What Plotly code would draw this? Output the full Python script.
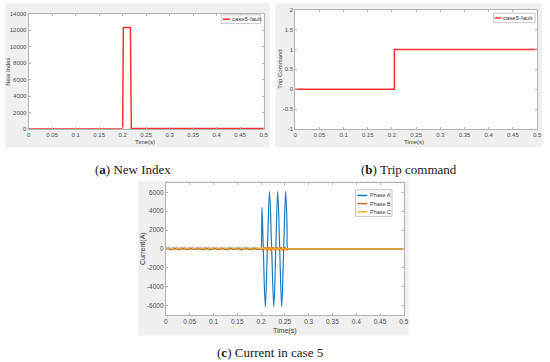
import plotly.graph_objects as go

W, H = 550, 362

# ---------------- data ----------------
# (a) New Index
t_index = [0, 0.2, 0.2015, 0.2165, 0.2185, 0.5]
new_index = [0, 0, 12350, 12350, 50, 50]

# (b) Trip command
t_trip = [0, 0.205, 0.205, 0.5]
trip_cmd = [0, 0, 1, 1]

# (c) Current in case 5
t_pre = [0, 0.0056, 0.0111, 0.0167, 0.0222, 0.0278, 0.0333, 0.0389, 0.0444, 0.05,
         0.0556, 0.0611, 0.0667, 0.0722, 0.0778, 0.0833, 0.0889, 0.0944, 0.1, 0.1056,
         0.1111, 0.1167, 0.1222, 0.1278, 0.1333, 0.1389, 0.1444, 0.15, 0.1556, 0.1611,
         0.1667, 0.1722, 0.1778, 0.1833, 0.1889, 0.1944, 0.1995]
ia_pre = [110, -55, -50, 105, -60, -45, 110, -50, -55, 100, -55, -50, 110, -60, -45, 105,
          -50, -55, 110, -55, -50, 100, -60, -45, 110, -50, -55, 105, -55, -50, 110, -60,
          -45, 100, -50, -55, 0]
ib_pre = [-50, 105, -55, -45, 110, -60, -55, 100, -50, -50, 110, -55, -45, 105, -60, -55,
          110, -50, -50, 100, -55, -45, 110, -60, -55, 105, -50, -50, 110, -55, -45, 100,
          -60, -55, 110, -50, 0]
ic_pre = [-55, -50, 100, -60, -50, 110, -45, -55, 105, -50, -60, 110, -55, -45, 100, -50,
          -60, 110, -45, -55, 105, -50, -60, 110, -55, -45, 100, -50, -60, 110, -45, -55,
          105, -50, -60, 110, 0]

t_fault_a = [0.2, 0.2019, 0.2047, 0.2089, 0.2133, 0.2178, 0.2223, 0.2268, 0.2310,
             0.2350, 0.2392, 0.2434, 0.2475, 0.2517, 0.2545, 0.2558, 0.2565]
ia_fault = [0, 4400, 0, -6150, 0, 6100, 0, -6150, 0, 6100, 0, -6150, 0, 6100, 2600, 0, 0]

t_fault_bc = [0.2, 0.2042, 0.2083, 0.2125, 0.2167, 0.2208, 0.225, 0.2292, 0.2333,
              0.2375, 0.2417, 0.2458, 0.25, 0.2542, 0.2575]
ib_fault = [0, -150, 160, -150, 150, -160, 150, -150, 160, -150, 150, -160, 150, -100, 0]
ic_fault = [0, 120, -110, 100, -120, 110, -100, 120, -110, 100, -120, 110, -100, 60, 0]

t_post = [0.262, 0.5]
i_post = [0, 0]

time_ticks = [0, 0.05, 0.1, 0.15, 0.2, 0.25, 0.3, 0.35, 0.4, 0.45, 0.5]
time_labels = ["0", "0.05", "0.1", "0.15", "0.2", "0.25", "0.3", "0.35", "0.4", "0.45", "0.5"]
index_ticks = [0, 2000, 4000, 6000, 8000, 10000, 12000, 14000]
index_labels = ["0", "2000", "4000", "6000", "8000", "10000", "12000", "14000"]
trip_ticks = [-1, -0.5, 0, 0.5, 1, 1.5, 2]
trip_labels = ["-1", "-0.5", "0", "0.5", "1", "1.5", "2"]
cur_ticks = [-6000, -4000, -2000, 0, 2000, 4000, 6000]
cur_labels = ["-6000", "-4000", "-2000", "0", "2000", "4000", "6000"]

series_c = ["Phase A", "Phase B", "Phase C"]
colors_c = ["#1a7cc4", "#de5f2a", "#efb52a"]
RED = "#ff3030"


def px(x):
    return x / W


def py(y):
    return 1 - y / H


fig = go.Figure()

fig.add_trace(go.Scatter(x=t_index, y=new_index, mode="lines", name="case5-fault",
                         line=dict(color=RED, width=1.5), xaxis="x", yaxis="y",
                         showlegend=False))
fig.add_trace(go.Scatter(x=t_trip, y=trip_cmd, mode="lines", name="case5-fault",
                         line=dict(color=RED, width=1.5), xaxis="x2", yaxis="y2",
                         showlegend=False))

phase_t = [t_pre + t_fault_a + t_post, t_pre + t_fault_bc + t_post, t_pre + t_fault_bc + t_post]
phase_v = [ia_pre + ia_fault + i_post, ib_pre + ib_fault + i_post, ic_pre + ic_fault + i_post]
for name, col, tt, vv in zip(series_c, colors_c, phase_t, phase_v):
    fig.add_trace(go.Scatter(x=tt, y=vv, mode="lines", name=name,
                             line=dict(color=col, width=1.2, shape="spline", smoothing=1.0),
                             xaxis="x3", yaxis="y3", showlegend=False))

AX = "#b4b4b4"


def axis(domain, anchor, rng, tv, tt, size=6):
    return dict(domain=domain, anchor=anchor, range=rng, tickvals=tv, ticktext=tt,
                showline=True, linecolor=AX, linewidth=1, mirror="ticks",
                ticks="inside", ticklen=2, tickcolor=AX, showgrid=False, zeroline=False,
                tickfont=dict(family="Liberation Sans", size=size, color="#4d4d4d"),
                fixedrange=True)


# panel pixel boxes (left, top, right, bottom)
A = (27, 11, 265, 128)
B = (297, 7, 542, 128)
C = (166, 183, 407, 317)

fig.update_layout(
    width=W, height=H, margin=dict(l=0, r=0, t=0, b=0),
    paper_bgcolor="white", plot_bgcolor="rgba(0,0,0,0)",
    xaxis=axis([px(A[0]), px(A[2])], "y", [0, 0.5], time_ticks, time_labels),
    yaxis=axis([py(A[3]), py(A[1])], "x", [0, 14000], index_ticks, index_labels),
    xaxis2=axis([px(B[0]), px(B[2])], "y2", [0, 0.5], time_ticks, time_labels),
    yaxis2=axis([py(B[3]), py(B[1])], "x2", [-1, 2], trip_ticks, trip_labels),
    xaxis3=axis([px(C[0]), px(C[2])], "y3", [0, 0.5], time_ticks, time_labels, 6.5),
    yaxis3=axis([py(C[3]), py(C[1])], "x3", [-7000, 7000], cur_ticks, cur_labels, 6.5),
)

shapes = []
GRAY = "#f0f0f0"
for (x0, y0, x1, y1) in [(3, 0, 271, 147), (277, 0, 547, 147), (138, 181, 412, 338)]:
    shapes.append(dict(type="rect", xref="paper", yref="paper", x0=px(x0), x1=px(x1),
                       y0=py(y1), y1=py(y0), fillcolor=GRAY, line=dict(width=0),
                       layer="below"))
for (x0, y0, x1, y1) in [A, B, C]:
    shapes.append(dict(type="rect", xref="paper", yref="paper", x0=px(x0), x1=px(x1),
                       y0=py(y1), y1=py(y0), fillcolor="white", line=dict(width=0),
                       layer="below"))

annotations = []


def text(x, y, s, size=6, angle=0, anchor="center", color="#3a3a3a", family="Liberation Sans"):
    annotations.append(dict(x=px(x), y=py(y), xref="paper", yref="paper", text=s,
                            showarrow=False, textangle=angle, xanchor=anchor,
                            yanchor="middle", font=dict(size=size, color=color, family=family)))


# legends (drawn manually, MATLAB style)
LEGBOX = "#b8b8b8"


def legend(box, items, line_x0, line_x1, text_x):
    x0, y0, x1, y1 = box
    shapes.append(dict(type="rect", xref="paper", yref="paper", x0=px(x0), x1=px(x1),
                       y0=py(y1), y1=py(y0), fillcolor="white",
                       line=dict(color=LEGBOX, width=0.8)))
    for (label, col, yy, w, fs) in items:
        shapes.append(dict(type="line", xref="paper", yref="paper", x0=px(line_x0),
                           x1=px(line_x1), y0=py(yy), y1=py(yy), line=dict(color=col, width=w)))
        text(text_x, yy, label, size=fs, anchor="left")


legend((222, 12, 262, 21), [("case5-fault", RED, 16.5, 1.5, 6)], 223.5, 231, 230.5)
legend((498, 10.5, 540, 20), [("case5-fault", RED, 15.2, 1.5, 6)], 499, 506, 505.5)
legend((358, 190, 395, 217),
       [(series_c[0], colors_c[0], 195.7, 1.5, 5.5),
        (series_c[1], colors_c[1], 204, 1.5, 5.5),
        (series_c[2], colors_c[2], 212.3, 1.5, 5.5)], 360, 370, 370.5)

# axis titles
text(6, 70, "New Index", angle=-90)
text(145, 141.7, "Time(s)")
text(281.5, 67, "Trip Command", angle=-90)
text(417, 141.7, "Time(s)")
text(143, 250, "Current(A)", size=7, angle=-90)
text(286.5, 334, "Time(s)", size=7)

# captions
SERIF = "Liberation Serif"
text(133, 169.5, "(<b>a</b>) New Index", size=13, color="#1a1a1a", family=SERIF)
text(412, 169.5, "(<b>b</b>) Trip command", size=13, color="#1a1a1a", family=SERIF)
text(271, 355, "(<b>c</b>) Current in case 5", size=13, color="#1a1a1a", family=SERIF)

fig.update_layout(shapes=shapes, annotations=annotations)

fig.write_html(
    "out.html",
    config={"displayModeBar": False, "staticPlot": True},
    post_script=("document.documentElement.style.margin='0';"
                 "document.body.style.margin='0';document.body.style.padding='0';"
                 "document.body.style.overflow='hidden';"),
)
